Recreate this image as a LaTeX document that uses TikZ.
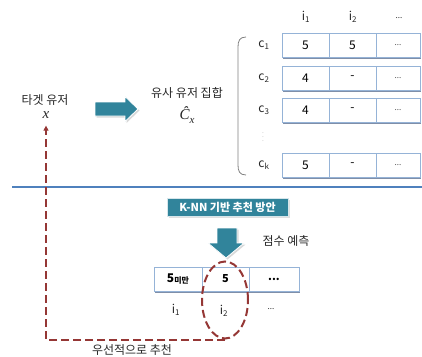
\documentclass[tikz,border=0pt]{standalone}
\usepackage{fontspec}
\setmainfont{Noto Sans CJK KR}
\setsansfont{Noto Sans CJK KR}
\newfontfamily\mitfont{Liberation Serif}
\usetikzlibrary{shapes.geometric,shadows,arrows.meta}
\definecolor{teal1}{HTML}{31849B}
\definecolor{rowblue}{HTML}{95B3D7}
\definecolor{rowshadow}{HTML}{7F8FA9}
\definecolor{lineblue}{HTML}{4F81BD}
\definecolor{dred}{HTML}{953735}
\definecolor{txt}{HTML}{262626}
\tikzset{
  lbl/.style={font=\fontsize{12}{14}\selectfont, text=txt, inner sep=0pt},
  cell/.style={draw=rowblue, line width=0.9pt, fill=white, minimum height=24pt, inner sep=0pt, font=\fontsize{12}{14}\selectfont, text=black},
  hdr/.style={font=\fontsize{12}{14}\selectfont, text=txt, inner sep=0pt},
  rowsh/.style={draw=rowshadow, line width=1.6pt},
  blockarrow/.style={fill=teal1, draw=white, line width=0.8pt, drop shadow={shadow xshift=1.5pt, shadow yshift=-1.5pt, fill=black!30}},
  dashedred/.style={draw=dred, line width=2pt, dash pattern=on 8pt off 4pt},
  botcell/.style={draw=rowblue, line width=0.9pt, fill=white, minimum height=24pt, inner sep=0pt, font=\fontsize{11}{13}\selectfont\bfseries, text=black}
}
\begin{document}
\begin{tikzpicture}[x=1pt,y=-1pt]
\useasboundingbox (0,0) rectangle (422,356);
% left labels
\node[lbl] (tgt) at (45,100) {타겟 유저};
\node[inner sep=0pt, font=\mitfont\itshape\fontsize{15}{16}\selectfont, text=txt] (tx) at (46,115) {x};
% right block arrow
\path[blockarrow] (95,102) -- (125,102) -- (125,96.5) -- (138,109) -- (125,121.5) -- (125,116) -- (95,116) -- cycle;
\node[lbl] (sim) at (187,93) {유사 유저 집합};
\node[inner sep=0pt, font=\mitfont\itshape\fontsize{15}{16}\selectfont, text=txt] (cx) at (187,115) {Ĉ\raisebox{-3.5pt}{\fontsize{11}{12}\selectfont x}};
% brace
\draw[draw=black!50, line width=0.8pt] (246,37) .. controls (239.5,37) and (238,41) .. (238,47) -- (238,165) .. controls (238,171) and (239.5,175) .. (246,175);
% headers
\node[hdr] (h1) at (306,17) {i\textsubscript{1}};
\node[hdr] (h2) at (353,17) {i\textsubscript{2}};
\node[hdr, font=\fontsize{8}{9}\selectfont] (h3) at (399,18) {...};
% row labels
\node[hdr] (c1) at (264,45) {c\textsubscript{1}};
\node[hdr] (c2) at (264,78) {c\textsubscript{2}};
\node[hdr] (c3) at (264,110) {c\textsubscript{3}};
\node[inner sep=0pt, font=\fontsize{5}{6}\selectfont, text=black!60] (cd) at (263,134) {$\vdots$};
\node[hdr] (ck) at (264,165) {c\textsubscript{k}};
% rows
\foreach \yy/\a/\b [count=\r] in {45/5/5, 78/4/-, 110/4/-, 165/5/-} {
  \draw[rowsh] (282.5,\yy+13) -- (420.5,\yy+13);
  \node[cell, minimum width=47pt] (r\r a) at (305.5,\yy) {\a};
  \node[cell, minimum width=47pt] (r\r b) at (352.5,\yy) {\b};
  \node[cell, minimum width=44pt, font=\fontsize{8}{9}\selectfont, text=black!70] (r\r c) at (398,\yy) {...};
}
% separator
\draw[lineblue, line width=1.4pt] (12,187) -- (422,187);
% KNN box
\node[fill=teal1, draw=white!80!teal1, line width=0.8pt, drop shadow={shadow xshift=1.5pt, shadow yshift=-1.5pt, fill=black!25}, text=white, font=\fontsize{11}{13}\selectfont\bfseries, minimum width=121pt, minimum height=18pt, inner sep=0pt] (knn) at (227.5,207) {K-NN 기반 추천 방안};
% down arrow
\path[blockarrow] (217,228) -- (237,228) -- (237,243) -- (244,243) -- (226,258) -- (208,243) -- (217,243) -- cycle;
\node[lbl] (pred) at (286,241) {점수 예측};
% bottom row
\draw[rowsh] (154.5,292) -- (299.5,292);
\node[botcell, minimum width=48pt] (b1) at (178,279) {\fontsize{12}{14}\selectfont 5\fontsize{8}{9}\selectfont\raisebox{-1.5pt}{미만}};
\node[botcell, minimum width=47pt] (b2) at (225.5,279) {5};
\node[botcell, minimum width=50pt] (b3) at (274,279) {...};
\node[hdr] (bl1) at (176,310) {i\textsubscript{1}};
\node[hdr] (bl2) at (224,311) {i\textsubscript{2}};
\node[hdr, font=\fontsize{8}{9}\selectfont] (bl3) at (271,309) {...};
% selection ellipse and recommendation path
\node[ellipse, dashedred, minimum width=46pt, minimum height=77pt, inner sep=0pt] (sel) at (225,300) {};
\draw[dashedred, -{Triangle[length=5pt,width=5pt]}] (sel.south) -| ([yshift=-7pt]tx.south);
\node[lbl] (rec) at (132,350.5) {우선적으로 추천};
\end{tikzpicture}
\end{document}
